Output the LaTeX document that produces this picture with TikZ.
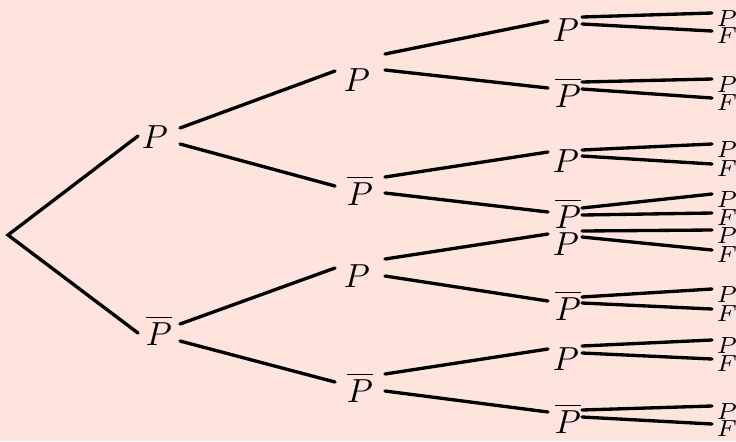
\documentclass[tikz,border=0pt]{standalone}
\usetikzlibrary{calc}
\definecolor{bgpink}{RGB}{255,228,222}

\begin{document}
\begin{tikzpicture}[
    x=0.3pt, y=-0.3pt,
    % --- Node styles ---
    state/.style={anchor=base, inner sep=0pt, font=\fontsize{10}{12}\selectfont},
    leaf/.style={anchor=base west, inner sep=0pt, font=\fontsize{7}{8}\selectfont},
    % --- Branch style ---
    branch/.style={line width=1pt, line cap=round},
]
\path[use as bounding box, fill=bgpink] (0,0) rectangle (736,441);

% === Root and first two levels ===
\coordinate (root) at (8,235);
\node[state] (a)  at (155,148) {$P$};
\node[state] (b)  at (159,345) {$\overline{P}$};
\node[state] (aa) at (357,91)  {$P$};
\node[state] (ab) at (360,205) {$\overline{P}$};
\node[state] (ba) at (357,287) {$P$};
\node[state] (bb) at (360,402) {$\overline{P}$};

\draw[branch] ($(a.base)+(-17,-12)$) -- (root) -- ($(b.base)+(-21,-12)$);

% parent/start/child/end, offsets from the base anchors
\foreach \p/\sx/\sy/\c/\ex/\ey in {
    a/25/-20/aa/-22/-20, a/25/-4/ab/-25/-19,
    b/21/-21/ba/-22/-19, b/21/-4/bb/-25/-20}
  \draw[branch] ($(\p.base)+(\sx,\sy)$) -- ($(\c.base)+(\ex,\ey)$);

% === Third level with its P / F leaves ===
\foreach \n/\t/\x/\y/\sa/\sb/\py/\fy in {
    aaa/P/566/41/-24/-17/26/43,
    aab/\overline{P}/568/107/-25/-18/92/110,
    aba/P/566/172/-22/-16/157/176,
    abb/\overline{P}/568/228/-20/-13/207/225,
    baa/P/566/255/-24/-18/243/262,
    bab/\overline{P}/568/320/-23/-17/302/321,
    bba/P/566/370/-24/-17/353/371,
    bbb/\overline{P}/568/433/-23/-16/419/436}{
  \node[state] (\n) at (\x,\y) {$\t$};
  \node[leaf] (\n p) at (716,\py) {$P$};
  \node[leaf] (\n f) at (716,\fy) {$F$};
  \draw[branch] ($(\n.base)+(582-\x,\sa)$) -- ($(\n p.base west)+(-4,-13)$);
  \draw[branch] ($(\n.base)+(582-\x,\sb)$) -- ($(\n f.base west)+(-4,-12)$);
}

\foreach \p/\sx/\sy/\c/\ex/\ey in {
    aa/28/-37/aaa/-18/-20, aa/28/-21/aab/-20/-19,
    ab/25/-28/aba/-18/-20, ab/25/-12/abb/-20/-16,
    ba/28/-28/baa/-18/-21, ba/28/-11/bab/-20/-19,
    bb/25/-28/bba/-18/-21, bb/25/-11/bbb/-20/-21}
  \draw[branch] ($(\p.base)+(\sx,\sy)$) -- ($(\c.base)+(\ex,\ey)$);

\end{tikzpicture}
\end{document}
